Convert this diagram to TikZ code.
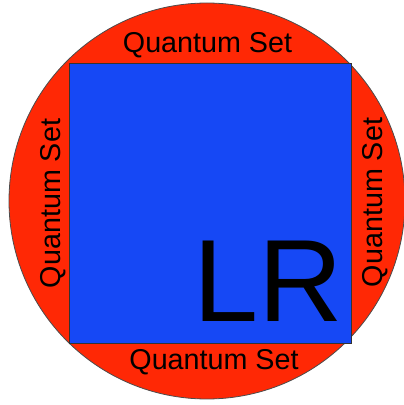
\documentclass[tikz,border=0pt]{standalone}
\usepackage{fontspec}
\setmainfont{Liberation Sans}
\usetikzlibrary{positioning}
\definecolor{setred}{RGB}{255,40,5}
\definecolor{lrblue}{RGB}{22,72,245}

\begin{document}
\begin{tikzpicture}[x=1pt, y=1pt,
    qlabel/.style={inner sep=0pt, anchor=base,
                   font=\fontsize{28.7}{30}\selectfont}]
  \useasboundingbox (0,0) rectangle (404,405);
  \node[circle, draw=black!70, line width=0.8pt, fill=setred,
        inner sep=0pt, minimum size=396pt] (qset) at (207,204) {};
  \node[draw=black!80, line width=0.6pt, fill=lrblue, inner sep=0pt,
        minimum width=282pt, minimum height=280pt] (lr) at (210,202) {};

  \node[qlabel] (qtop) at (207.5,352) {Quantum Set};
  \node[qlabel] (qbot) at (214,35) {Quantum Set};
  \node[qlabel, rotate=90] (qleft) at (60,201.5) {Quantum Set};
  \node[qlabel, rotate=90] (qright) at (382,202.5) {Quantum Set};

  \node[inner sep=0pt, anchor=base, font=\fontsize{117}{120}\selectfont]
    (lrtext) at (268,83) {LR};
\end{tikzpicture}
\end{document}
